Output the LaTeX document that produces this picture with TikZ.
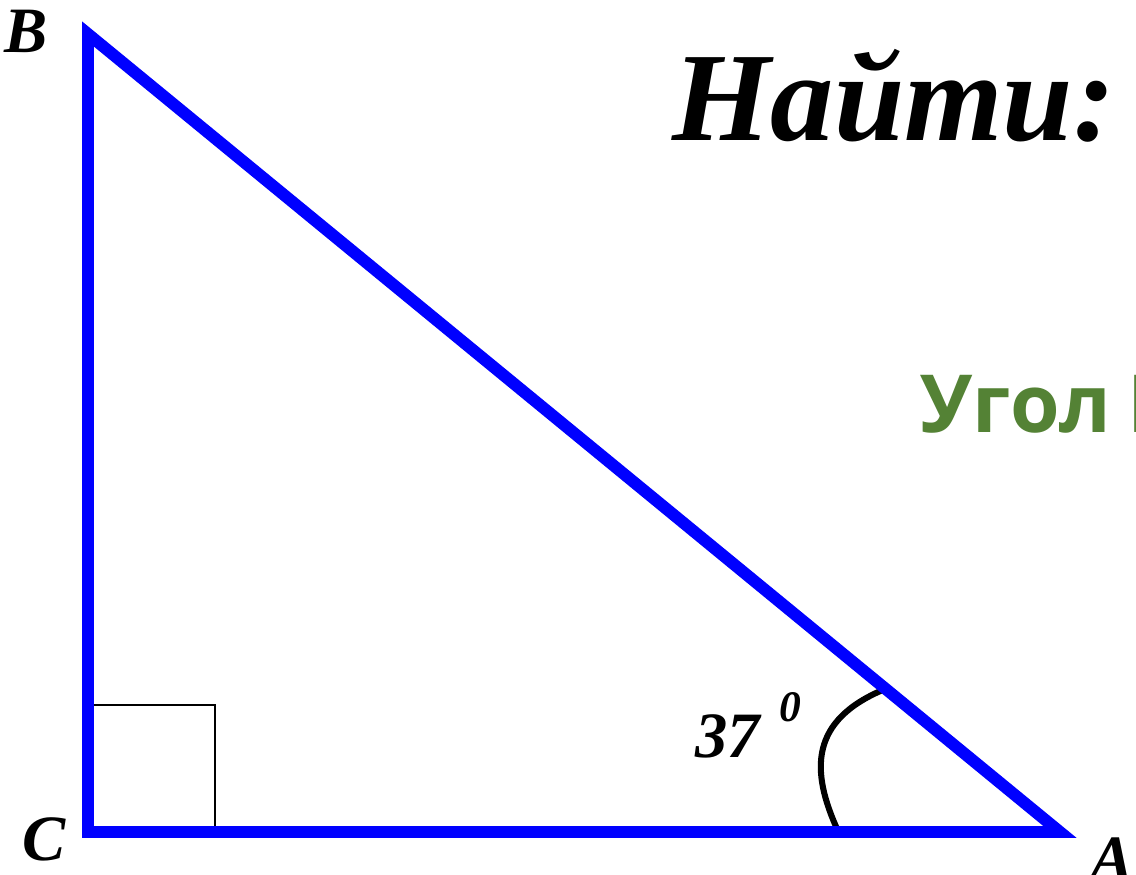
\documentclass[tikz,border=0pt]{standalone}
\usepackage{fontspec}
\setmainfont{Liberation Serif}
\newfontfamily\greenfont{Open Sans}
\usepackage{tikz}
\usetikzlibrary{positioning}
\definecolor{sideblue}{RGB}{0,0,255}
\definecolor{taskgreen}{RGB}{84,130,53}
\tikzset{
  side/.style={draw=sideblue, line width=8.5pt, line join=miter},
  rightmark/.style={draw=black, line width=1.2pt},
  anglearc/.style={draw=black, line width=4.3pt},
  vertexlabel/.style={inner sep=0pt, anchor=base west, font=\fontsize{46}{46}\selectfont\bfseries\itshape},
  anglelabel/.style={inner sep=0pt, anchor=base west, font=\fontsize{46}{46}\selectfont\bfseries\itshape},
  titlelabel/.style={inner sep=0pt, anchor=base west, font=\fontsize{90}{90}\selectfont\bfseries\itshape},
  tasklabel/.style={inner sep=0pt, anchor=base west, text=taskgreen, font=\greenfont\fontsize{57}{57}\selectfont\bfseries}
}
\begin{document}
\begin{tikzpicture}[x=0.025cm, y=-0.025cm]
  \useasboundingbox (0,0) rectangle (1136,874);
  \clip (0,0) rectangle (1136,874);
  % vertices
  \coordinate (C) at (88,832);
  \coordinate (A) at (1060,832);
  \coordinate (B) at (88,34);
  % right angle mark
  \coordinate (sqtop) at (88,705);
  \coordinate (sqcorner) at (215,705);
  \coordinate (sqbase) at (215,832);
  \draw[rightmark] (sqtop) -- (sqcorner) -- (sqbase);
  % angle at A
  \coordinate (arcstart) at (838,831);
  \coordinate (arcend) at (885,689);
  \draw[anglearc] (arcstart) .. controls (810,770) and (810,720) .. (arcend);
  % triangle
  \draw[side] (C) -- (A) -- (B) -- cycle;
  % labels
  \node[vertexlabel] (labB) at (4,53) {B};
  \node[vertexlabel] (labC) at (22,860) {C};
  \node[vertexlabel] (labA) at (1090,880) {A};
  \node[anglelabel] (labangle) at (695,757) {37\hspace{0.3em}\raisebox{0.55em}{\fontsize{31}{31}\selectfont 0}};
  \node[titlelabel] (title) at (672,140) {Найти:};
  \node[tasklabel] (task) at (920,432) {Угол\hspace{0.2em}В};
\end{tikzpicture}
\end{document}
